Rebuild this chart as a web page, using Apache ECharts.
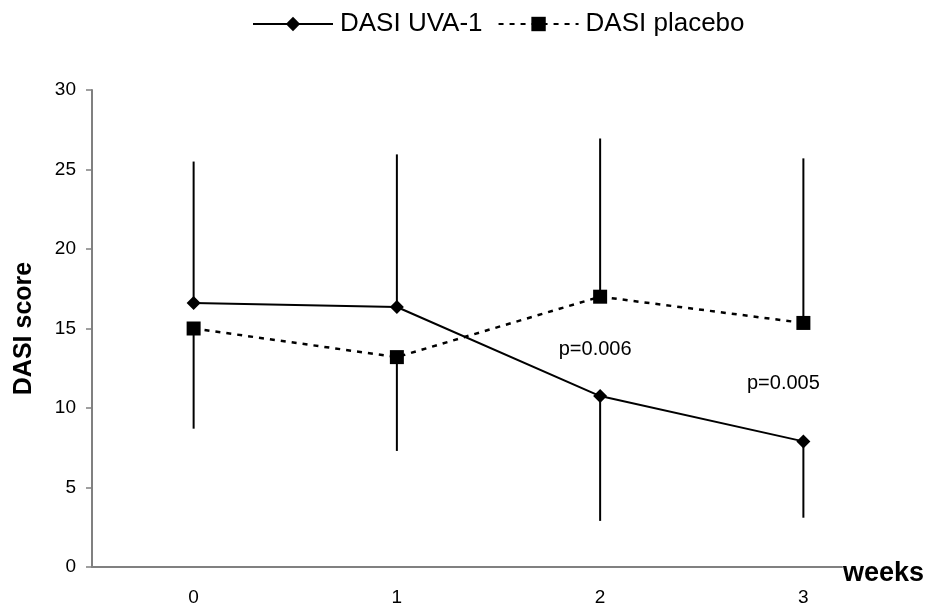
<!DOCTYPE html>
<html>
<head>
<meta charset="utf-8">
<script src="https://cdn.jsdelivr.net/npm/echarts@6/dist/echarts.min.js"></script>
<style>html,body{margin:0;padding:0;background:#fff;}#c{width:930px;height:607px;}</style>
</head>
<body>
<div id="c"></div>
<script>
var weeks = [0, 1, 2, 3];
var uvaValues = [16.6, 16.35, 10.75, 7.9];
var uvaErrEnds = [25.5, 25.95, 2.9, 3.1];
var placeboValues = [15.0, 13.2, 17.0, 15.35];
var placeboErrEnds = [8.7, 7.3, 26.95, 25.7];
var yTicks = [0, 5, 10, 15, 20, 25, 30];
var pLabels = ['p=0.006', 'p=0.005'];
var pLabelWeeks = [2, 3];
var pLabelY = [13.65, 11.55];

var FONT = 'Liberation Sans, Arial, sans-serif';
var chart = echarts.init(document.getElementById('c'));

function pairs(vals) { return vals.map(function (v, i) { return [weeks[i], v]; }); }

function errSeries(vals, ends) {
  return {
    type: 'custom',
    silent: true,
    z: 1,
    data: vals.map(function (v, i) { return [weeks[i], v, ends[i]]; }),
    renderItem: function (params, api) {
      var p1 = api.coord([api.value(0), api.value(1)]);
      var p2 = api.coord([api.value(0), api.value(2)]);
      return { type: 'line', shape: { x1: p1[0], y1: p1[1], x2: p2[0], y2: p2[1] },
        style: { stroke: '#000', lineWidth: 2 } };
    }
  };
}

chart.setOption({
  animation: false,
  backgroundColor: '#fff',
  textStyle: { fontFamily: FONT },
  legend: {
    top: 6, left: 247,
    itemWidth: 80, itemHeight: 18, itemGap: 15,
    textStyle: { fontSize: 26, color: '#000', fontFamily: FONT, padding: [0, 0, 0, 2] },
    data: ['DASI UVA-1', 'DASI placebo']
  },
  grid: { left: 92, right: 88, top: 90, bottom: 40 },
  xAxis: {
    type: 'value', min: -0.5, max: 3.19,
    axisLine: { show: true, onZero: false, lineStyle: { color: '#808080', width: 2 } },
    axisTick: { show: false },
    splitLine: { show: false },
    axisLabel: { fontSize: 19, color: '#000', margin: 21, fontFamily: FONT,
      customValues: weeks, formatter: function (v) { return String(v); } },
    name: 'weeks', nameLocation: 'end', nameGap: 1,
    nameTextStyle: { fontSize: 27, fontWeight: 'bold', color: '#000', align: 'left',
      verticalAlign: 'top', lineHeight: 13, fontFamily: FONT }
  },
  yAxis: {
    type: 'value', min: yTicks[0], max: yTicks[yTicks.length - 1], interval: 5,
    axisLine: { show: true, onZero: false, lineStyle: { color: '#808080', width: 2 } },
    axisTick: { show: true, inside: false, length: 6, lineStyle: { color: '#808080', width: 1.5 } },
    splitLine: { show: false },
    axisLabel: { fontSize: 19, color: '#000', margin: 16, fontFamily: FONT },
    name: 'DASI score', nameLocation: 'middle', nameGap: 55,
    nameTextStyle: { fontSize: 25, fontWeight: 'bold', color: '#000', fontFamily: FONT }
  },
  series: [
    errSeries(uvaValues, uvaErrEnds),
    errSeries(placeboValues, placeboErrEnds),
    {
      name: 'DASI UVA-1', type: 'line', data: pairs(uvaValues), z: 3,
      symbol: 'diamond', symbolSize: 14, showSymbol: true,
      itemStyle: { color: '#000' },
      lineStyle: { color: '#000', width: 2 },
      markPoint: {
        symbol: 'circle', symbolSize: 0,
        label: { show: true, color: '#000', fontSize: 20, fontFamily: FONT,
          formatter: function (p) { return p.name; } },
        data: pLabels.map(function (t, i) {
          return { name: t, coord: [pLabelWeeks[i], pLabelY[i]], label: { offset: [i === 0 ? -5 : -20, 0] } };
        })
      }
    },
    {
      name: 'DASI placebo', type: 'line', data: pairs(placeboValues), z: 3,
      symbol: 'rect', symbolSize: 14, showSymbol: true,
      itemStyle: { color: '#000' },
      lineStyle: { color: '#000', width: 2.5, type: [5, 6] }
    }
  ]
});
</script>
</body>
</html>
